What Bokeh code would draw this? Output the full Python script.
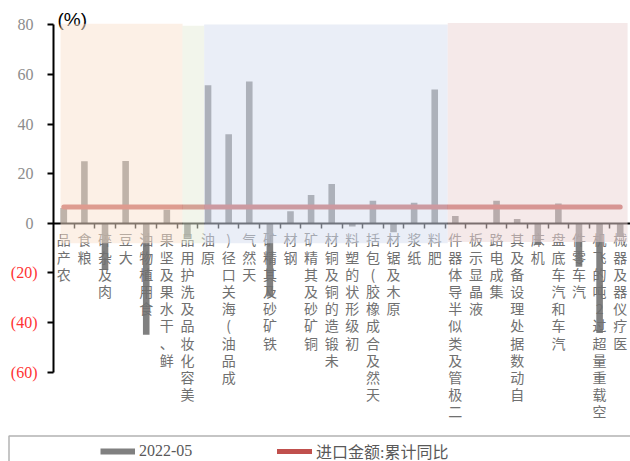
from bokeh.plotting import figure
from bokeh.models import (Range1d, LinearAxis, FixedTicker, Label, Legend,
                          LegendItem, BoxAnnotation, ColumnDataSource)
from bokeh.embed import file_html
from bokeh.resources import INLINE

# ---------------- data ----------------
categories = ["农产品", "粮食", "肉及杂碎", "大豆", "食用植物油", "鲜、干水果及坚果",
              "美容化妆品及洗护用品", "原油", "成品油(海关口径)", "天然气", "铁矿砂及其精矿",
              "钢材", "铜矿砂及其精矿", "未锻造的铜及铜材", "初级形状的塑料",
              "天然及合成橡胶(包括胶乳)", "原木及锯材", "纸浆", "肥料",
              "二极管及类似半导体器件", "液晶显示板", "集成电路",
              "自动数据处理设备及其零部件", "机床", "汽车和汽车底盘", "汽车零件",
              "空载重量超过2吨的飞机", "医疗仪器及器械"]
tick_labels = ["农产品", "粮食", "肉及杂碎", "大豆", "食用植物油", "鲜、干水果及坚果",
               "美容化妆品及洗护用品", "原油", "成品油(海关口径)", "天然气", "铁矿砂及其精矿",
               "钢材", "铜矿砂及其精矿", "未锻造的铜及铜材", "初级形状的塑料",
               "天然及合成橡胶(包括", "原木及锯材", "纸浆", "肥料",
               "二极管及类似半导体器件", "液晶显示板", "集成电路",
               "自动数据处理设备及其", "机床", "汽车和汽车底盘", "汽车零件",
               "空载重量超过2吨的飞机", "医疗仪器及器械"]
values_2022_05 = [6.2, 25.0, -18.8, 25.1, -44.9, 5.5, -5.8, 55.6, 35.9, 57.2, -29.5,
                  4.9, 11.4, 15.8, -1.3, 9.1, -3.6, 8.3, 53.9, 2.9, -0.2, 9.1, 1.7,
                  -8.7, 8.0, -17.5, -44.2, -5.4]
import_total_yoy = [6.6, 6.6, 6.6, 6.6, 6.6, 6.6, 6.6, 6.6, 6.6, 6.6, 6.6, 6.6, 6.6, 6.6,
                    6.6, 6.6, 6.6, 6.6, 6.6, 6.6, 6.6, 6.6, 6.6, 6.6, 6.6, 6.6, 6.6, 6.6]
y_ticks = [-60, -40, -20, 0, 20, 40, 60, 80]
y_tick_labels = ["(60)", "(40)", "(20)", "0", "20", "40", "60", "80"]
series_names = ["2022-05", "进口金额:累计同比"]

# group backgrounds (category-unit extents)
group_left = [-0.16, 5.76, 6.81, 18.63]
group_right = [5.76, 6.81, 18.63, 27.36]
group_top = [80.4, 79.6, 80.1, 80.7]
group_bottom = [-8, -8, -8, -7.5]
group_colors = ["#F9E2CF", "#E6ECD9", "#D7DEF0", "#ECD5D5"]

idx = list(range(len(categories)))
src = ColumnDataSource(dict(x=idx, v=values_2022_05, t=import_total_yoy, cat=categories))

# frame covers the whole canvas; axes are placed at fixed data locations
W, H = 630, 461
ax_left_px, ax_right_px = 53.0, 630.0
y_top_px, y_bot_px = 24.3, 371.7
ppx = (ax_right_px - ax_left_px) / 28.0
ppy = (y_bot_px - y_top_px) / 140.0
x0 = -0.5 - ax_left_px / ppx
x1 = 27.5 + (W - ax_right_px) / ppx
y1 = 80 + y_top_px / ppy
y0 = -60 - (H - y_bot_px) / ppy

p = figure(width=W, height=H, x_range=Range1d(x0, x1), y_range=Range1d(y0, y1),
           output_backend="svg", toolbar_location=None,
           x_axis_location=None, y_axis_location=None,
           min_border_left=0, min_border_right=0, min_border_top=0, min_border_bottom=0)
p.outline_line_color = None
p.grid.visible = False
p.background_fill_color = "white"

bars = p.vbar(x="x", top="v", width=0.32, source=src, fill_color="#808080", line_color=None)
line = p.line(x="x", y="t", source=src, line_color="#C0504D", line_width=5, line_cap="round")
# legend key for the bar series (draws nothing in the plot area)
bar_key = p.line(x=[0], y=[float("nan")], line_color="#808080", line_width=6, line_cap="butt")

p.quad(left=group_left, right=group_right, top=group_top, bottom=group_bottom,
       fill_color=group_colors, fill_alpha=0.52, line_color=None, level="overlay")

# y axis
ya = LinearAxis(fixed_location=-0.5, bounds=(-60, 80))
ya.ticker = FixedTicker(ticks=y_ticks)
ya.major_label_overrides = {t: (lab if t >= 0 else "") for t, lab in zip(y_ticks, y_tick_labels)}
ya.axis_line_color = "black"
ya.axis_line_width = 2
ya.major_tick_line_color = "black"
ya.major_tick_line_width = 2
ya.major_tick_out = 6
ya.major_tick_in = 0
ya.minor_tick_line_color = None
ya.major_label_text_font = "Liberation Serif"
ya.major_label_text_font_size = "16px"
ya.major_label_text_color = "#8C8C8C"
ya.major_label_standoff = 14
p.add_layout(ya, "left")

for t, lab in zip(y_ticks, y_tick_labels):
    if t < 0:
        p.add_layout(Label(x=-0.5, y=t, x_offset=-16, text=lab, text_align="right",
                           text_baseline="middle", text_color="#FF3333",
                           text_font="Liberation Serif", text_font_size="16px"))

# x axis at y = 0
xa = LinearAxis(fixed_location=0, bounds=(-0.5, 27.5))
boundaries = [i + 0.5 for i in idx[:-1]]
xa.ticker = FixedTicker(ticks=idx, minor_ticks=boundaries)
xa.major_label_overrides = {i: "\n".join(reversed(list(s))) for i, s in zip(idx, tick_labels)}
xa.axis_line_color = "black"
xa.axis_line_width = 2
xa.major_tick_line_color = None
xa.major_tick_out = 0
xa.major_tick_in = 0
xa.minor_tick_line_color = "black"
xa.minor_tick_line_width = 1.5
xa.minor_tick_out = 5
xa.minor_tick_in = 0
xa.major_label_text_font = "Noto Sans CJK SC"
xa.major_label_text_font_size = "14px"
xa.major_label_text_line_height = 0.86
xa.major_label_text_color = "#707070"
xa.major_label_standoff = 1
p.add_layout(xa, "below")

# unit label
p.add_layout(Label(x=-0.5, y=80, x_offset=4, y_offset=5, text="(%)", text_baseline="middle",
                   text_font="Liberation Sans", text_font_size="19px", text_color="black"))

# legend
p.add_layout(BoxAnnotation(left=8.5, right=700, top=435.5, bottom=600,
                           left_units="canvas", right_units="canvas",
                           top_units="canvas", bottom_units="canvas",
                           fill_color=None, fill_alpha=0, line_color="black", line_width=1.5))
legend = Legend(items=[LegendItem(label=series_names[0], renderers=[bar_key]),
                       LegendItem(label=series_names[1], renderers=[line])],
                location=(100, -2), orientation="horizontal", border_line_color=None,
                background_fill_alpha=0, padding=0, spacing=38, label_width=100,
                glyph_width=35, glyph_height=20, label_height=20, label_standoff=4,
                label_text_font="'Liberation Serif', 'Noto Sans CJK SC'",
                label_text_font_size="16px", label_text_color="#595959", margin=0)
p.add_layout(legend)

open("out.html", "w").write(file_html(p, INLINE))
